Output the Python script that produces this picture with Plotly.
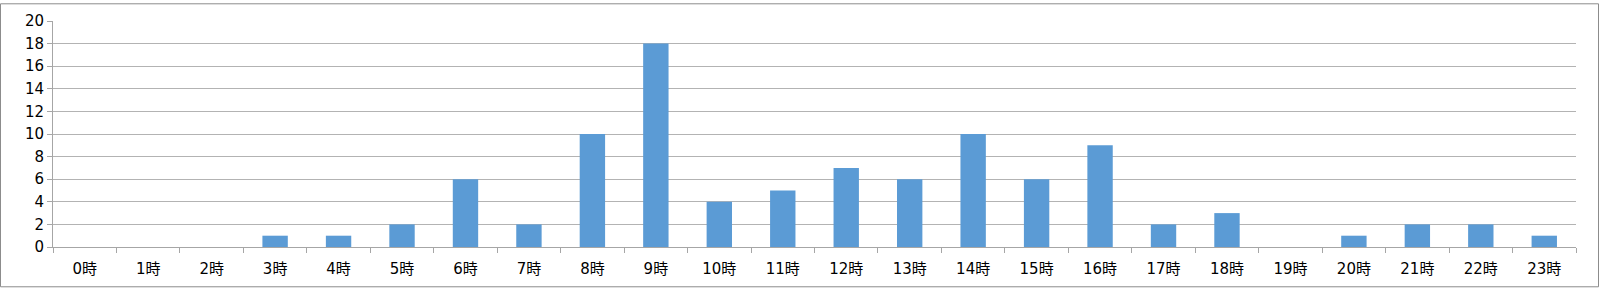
import plotly.graph_objects as go

hours = [f"{h}時" for h in range(24)]
counts = [0, 0, 0, 1, 1, 2, 6, 2, 10, 18, 4, 5, 7, 6, 10, 6, 9, 2, 3, 0, 1, 2, 2, 1]
y_ticks = list(range(0, 21, 2))

W, H = 1600, 290
ml, mr, mt, mb = 53, 24, 18, 42
pw, ph = W - ml - mr, H - mt - mb

fig = go.Figure(go.Bar(x=hours, y=counts, marker=dict(color="#5B9BD5", line=dict(width=0))))

fig.update_layout(
    width=W, height=H,
    margin=dict(l=ml, r=mr, t=mt, b=mb, pad=0),
    paper_bgcolor="white", plot_bgcolor="white",
    bargap=0.6, showlegend=False,
    font=dict(family="DejaVu Sans, Noto Sans CJK JP", size=14, color="#000000"),
    xaxis=dict(
        type="category", showgrid=False, showline=True, linecolor="#A6A6A6", linewidth=1,
        ticks="outside", tickson="boundaries", ticklen=5, tickcolor="#A6A6A6",
        ticklabelstandoff=8,
        tickfont=dict(size=15, family="DejaVu Sans, Noto Sans CJK JP"),
    ),
    yaxis=dict(
        range=[0, 20], tickvals=y_ticks, showgrid=True, gridcolor="#B3B3B3", gridwidth=1,
        showline=True, linecolor="#A6A6A6", linewidth=1, zeroline=False,
        ticks="outside", ticklen=5, tickcolor="#A6A6A6",
        tickfont=dict(size=15, family="DejaVu Sans"),
    ),
    shapes=[dict(
        type="rect", xref="paper", yref="paper",
        x0=(-ml + 0.5) / pw, x1=(pw + mr - 1.5) / pw,
        y0=(-mb + 1.5) / ph, y1=(ph + mt - 0.5) / ph,
        line=dict(color="#8C8C8C", width=1), fillcolor="rgba(0,0,0,0)", layer="above",
    )],
)

fig.write_html("out.html")
